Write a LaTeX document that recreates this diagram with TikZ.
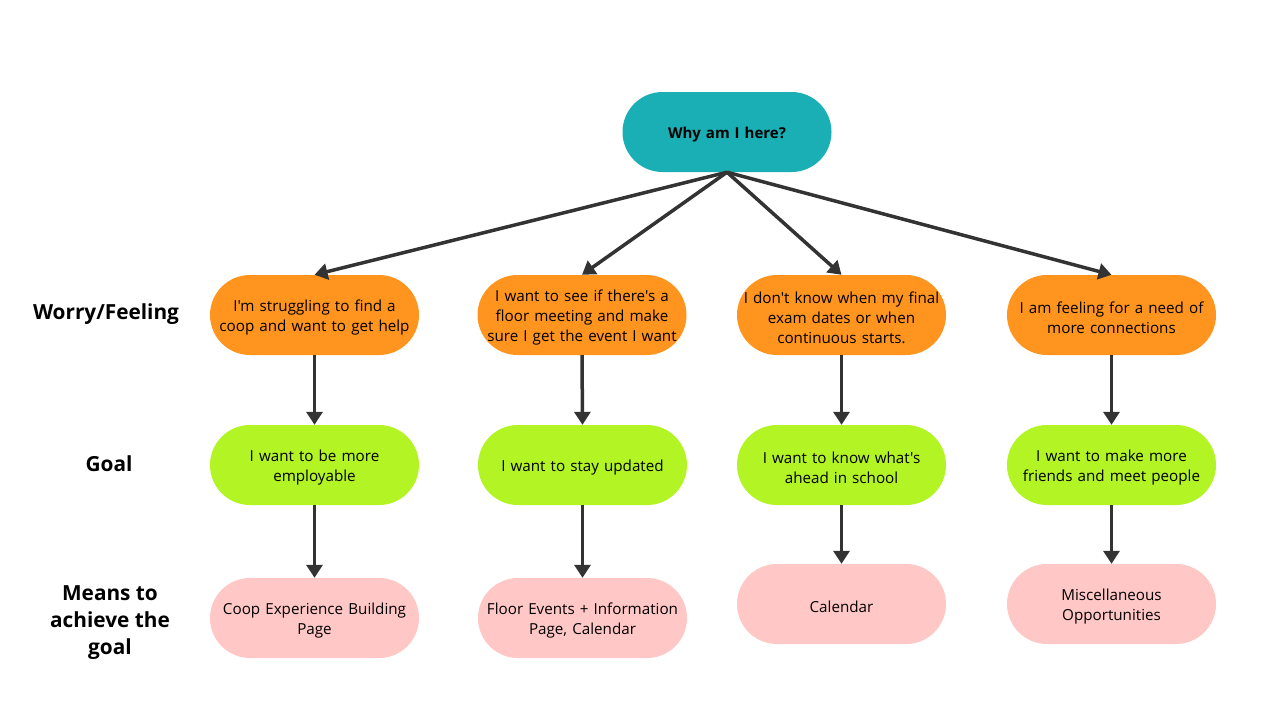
\documentclass[tikz,border=0pt]{standalone}
\usepackage{fontspec}
\setmainfont{Open Sans}[Ligatures=TeXOff]
\usetikzlibrary{arrows.meta}
\definecolor{teal1}{HTML}{19AFB5}
\definecolor{orange1}{HTML}{FF951E}
\definecolor{lime1}{HTML}{B2F424}
\definecolor{pink1}{HTML}{FFC7C5}
\definecolor{arr}{HTML}{333333}
\begin{document}
\begin{tikzpicture}[x=1pt,y=-1pt,
  pill/.style={rectangle,rounded corners=40pt,minimum width=209pt,minimum height=80pt,
    inner sep=2pt,align=center,text width=205pt,font=\fontsize{15.2}{20}\selectfont,text=black,
    execute at begin node={\rule{0pt}{17.5pt}}},
  worry/.style={pill,fill=orange1},
  goalbox/.style={pill,fill=lime1},
  means/.style={pill,fill=pink1},
  rowlabel/.style={align=center,font=\fontsize{20.8}{27}\selectfont\bfseries},
  conn/.style={draw=arr,line width=3.5pt,-{Triangle[length=13pt,width=16pt]}}]
\useasboundingbox[fill=white] (0,0) rectangle (1265,718);
\node[pill,fill=teal1,font=\fontsize{15}{20}\selectfont\bfseries] (top) at (727,132) {Why am I here?};
\node[worry] (w1) at (314.5,315) {I'm struggling to find a\\coop and want to get help};
\node[worry] (w2) at (582,315) {I want to see if there's a\\floor meeting and make\\sure I get the event I want};
\node[worry] (w3) at (841.5,315) {I don't know when my final\\exam dates or when\\continuous starts.};
\node[worry] (w4) at (1111.5,315) {I am feeling for a need of\\more connections};
\node[goalbox] (g1) at (314.5,465) {I want to be more\\employable};
\node[goalbox] (g2) at (582.5,465) {I want to stay updated};
\node[goalbox] (g3) at (841.5,465) {I want to know what's\\ahead in school};
\node[goalbox] (g4) at (1111.5,465) {I want to make more\\friends and meet people};
\node[means] (m1) at (314.5,618) {Coop Experience Building\\Page};
\node[means] (m2) at (582.5,618) {Floor Events + Information\\Page, Calendar};
\node[means] (m3) at (841.5,604) {Calendar};
\node[means] (m4) at (1111.5,604) {Miscellaneous\\Opportunities};
\node[rowlabel] (lw) at (106,314) {Worry/Feeling};
\node[rowlabel] (lg) at (109,464) {Goal};
\node[rowlabel] (lm) at (110,623) {Means to\\achieve the\\goal};
\coordinate (src) at (top.south);
\draw[conn] (src) -- (w1.north);
\draw[conn] (src) -- (w2.north);
\draw[conn] (src) -- (w3.north);
\draw[conn] (src) -- (w4.north);
\foreach \i in {1,2,3,4}{
  \draw[conn] (w\i.south) -- (g\i.north);
  \draw[conn] (g\i.south) -- (m\i.north);
}
\end{tikzpicture}
\end{document}
